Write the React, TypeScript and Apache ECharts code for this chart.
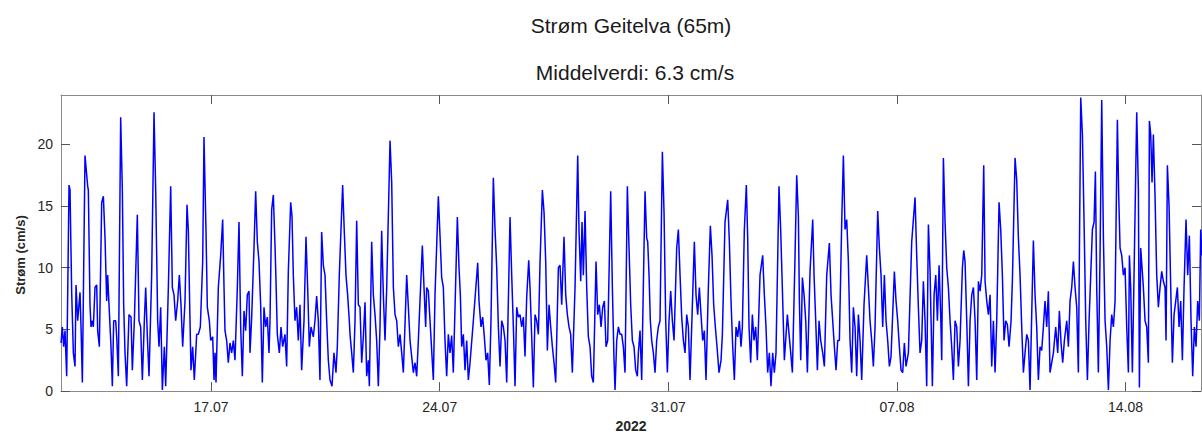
import React, { useEffect, useRef } from "react";
import * as echarts from "echarts";

// Time axis: days since 2022-07-12 00:00
const xStart = 0.407;
const xEnd = 35.31;
const tickDays = [5, 12, 19, 26, 33];
const tickLabels = ["17.07", "24.07", "31.07", "07.08", "14.08"];
const yTicks = [0, 5, 10, 15, 20];

const titleText = "Strøm Geitelva (65m)";
const subtitleText = "Middelverdi: 6.3 cm/s";
const yLabel = "Strøm (cm/s)";
const xLabel = "2022";

const days = [
  0.408, 0.448, 0.489, 0.530, 0.581, 0.653, 0.683, 0.734, 0.785, 0.836, 0.867, 0.918, 0.989, 1.020, 1.061,
  1.142, 1.224, 1.244, 1.295, 1.326, 1.367, 1.397, 1.448, 1.500, 1.530, 1.581, 1.653, 1.704, 1.755, 1.806,
  1.836, 1.877, 1.938, 1.979, 2.020, 2.081, 2.112, 2.163, 2.234, 2.285, 2.326, 2.367, 2.418, 2.489, 2.551,
  2.591, 2.653, 2.744, 2.795, 2.846, 2.898, 2.959, 3.000, 3.051, 3.102, 3.183, 3.255, 3.306, 3.367, 3.408,
  3.459, 3.510, 3.571, 3.612, 3.694, 3.765, 3.816, 3.867, 3.918, 3.979, 4.030, 4.081, 4.132, 4.204, 4.265,
  4.306, 4.347, 4.387, 4.438, 4.489, 4.561, 4.612, 4.673, 4.745,
  4.785, 4.847, 4.887, 4.949, 4.990, 5.051, 5.092, 5.122, 5.153, 5.224, 5.296, 5.357, 5.398, 5.428, 5.479,
  5.530, 5.581, 5.632, 5.683, 5.734, 5.806, 5.857, 5.908, 5.959, 6.010, 6.061, 6.112, 6.163, 6.194, 6.245,
  6.316, 6.367, 6.418, 6.469, 6.520, 6.571, 6.622, 6.673, 6.724, 6.775, 6.806, 6.857, 6.908, 6.959, 6.990,
  7.030, 7.092, 7.143, 7.194, 7.265, 7.316, 7.367, 7.439, 7.479, 7.520, 7.571, 7.622, 7.673, 7.724, 7.775,
  7.847, 7.908, 7.959, 8.010, 8.061, 8.132, 8.183, 8.234, 8.285, 8.336, 8.387, 8.439, 8.490, 8.541, 8.592,
  8.643, 8.704, 8.765, 8.826, 8.867, 8.928, 9.030, 9.081, 9.132, 9.183, 9.234,
  9.256, 9.307, 9.358, 9.409, 9.460, 9.511, 9.562, 9.613, 9.664, 9.715, 9.766, 9.817, 9.848, 9.919, 9.970,
  10.021, 10.072, 10.123, 10.174, 10.225, 10.276, 10.327, 10.379, 10.481, 10.532, 10.583, 10.634, 10.685, 10.736, 10.787,
  10.838, 10.889, 10.991, 11.042, 11.093, 11.144, 11.195, 11.246, 11.297, 11.348, 11.470, 11.521, 11.572, 11.603, 11.654,
  11.705, 11.756, 11.807, 11.858, 11.960, 12.011, 12.062, 12.113, 12.164, 12.215, 12.266, 12.317, 12.368, 12.419, 12.542,
  12.593, 12.634, 12.675, 12.726, 12.777, 12.828, 12.879, 12.930, 13.032, 13.165, 13.205, 13.266, 13.317, 13.368, 13.419,
  13.470, 13.521, 13.572, 13.644,
  13.696, 13.747, 13.798, 13.849, 13.900, 13.951, 14.002, 14.053, 14.155, 14.206, 14.257, 14.308, 14.359, 14.410, 14.461,
  14.512, 14.563, 14.614, 14.665, 14.727, 14.767, 14.818, 14.869, 14.920, 14.971, 15.023, 15.074, 15.145, 15.196, 15.247,
  15.298, 15.349, 15.400, 15.451, 15.502, 15.553, 15.635, 15.686, 15.737, 15.808, 15.860, 15.910, 15.961, 16.012, 16.063,
  16.145, 16.227, 16.268, 16.319, 16.359, 16.400, 16.451, 16.502, 16.553, 16.604, 16.655, 16.706, 16.788, 16.839, 16.890,
  16.941, 16.992, 17.043, 17.094, 17.145, 17.237, 17.288, 17.339, 17.370, 17.421, 17.472, 17.523, 17.574, 17.624, 17.676,
  17.747, 17.798, 17.849, 17.900, 17.951, 18.002, 18.053,
  18.084, 18.135, 18.186, 18.288, 18.339, 18.370, 18.411, 18.451, 18.492, 18.543, 18.594, 18.645, 18.696, 18.747, 18.819,
  18.870, 18.921, 18.972, 19.023, 19.074, 19.125, 19.176, 19.258, 19.309, 19.360, 19.411, 19.462, 19.513, 19.564, 19.615,
  19.666, 19.798, 19.849, 19.900, 19.951, 20.002, 20.053, 20.104, 20.155, 20.227, 20.288, 20.339, 20.390, 20.441, 20.492,
  20.553, 20.615, 20.656, 20.737, 20.819, 20.870, 20.921, 20.972, 21.023, 21.074, 21.125, 21.176, 21.227, 21.268, 21.329,
  21.390, 21.431, 21.472, 21.523, 21.574, 21.625, 21.676, 21.727, 21.809, 21.890, 21.941, 21.992, 22.043, 22.094, 22.145,
  22.196, 22.247, 22.298, 22.390, 22.441, 22.492, 22.554,
  22.606, 22.646, 22.698, 22.749, 22.800, 22.881, 22.932, 22.983, 23.014, 23.055, 23.106, 23.157, 23.208, 23.259, 23.340,
  23.422, 23.463, 23.514, 23.565, 23.616, 23.667, 23.728, 23.779, 23.851, 23.932, 23.983, 24.034, 24.085, 24.136, 24.187,
  24.238, 24.310, 24.361, 24.412, 24.463, 24.514, 24.565, 24.616, 24.667, 24.718, 24.769, 24.820, 24.871, 24.922, 24.993,
  25.075, 25.126, 25.177, 25.228, 25.279, 25.330, 25.412, 25.463, 25.514, 25.565, 25.616, 25.667, 25.718, 25.769, 25.820,
  25.922, 25.973, 26.024, 26.075, 26.126, 26.177, 26.228, 26.279, 26.351, 26.453, 26.555, 26.606, 26.657, 26.708, 26.759,
  26.810, 26.861, 26.912,
  26.964, 27.015, 27.046, 27.086, 27.138, 27.189, 27.240, 27.291, 27.342, 27.372, 27.423, 27.474, 27.525, 27.576, 27.627,
  27.678, 27.729, 27.780, 27.831, 27.882, 27.933, 28.005, 28.046, 28.086, 28.138, 28.189, 28.240, 28.291, 28.342, 28.393,
  28.444, 28.495, 28.546, 28.597, 28.658, 28.699, 28.750, 28.801, 28.852, 28.903, 28.954, 29.005, 29.056, 29.127, 29.178,
  29.229, 29.280, 29.331, 29.382, 29.433, 29.495, 29.535, 29.617, 29.668, 29.719, 29.770, 29.821, 29.872, 29.923, 29.974,
  30.025, 30.076, 30.127, 30.178, 30.229, 30.280, 30.331, 30.382, 30.433, 30.484, 30.535, 30.586, 30.637, 30.688, 30.791,
  30.862, 30.923, 30.974, 31.025, 31.076, 31.127,
  31.199, 31.250, 31.301, 31.352, 31.403, 31.454, 31.505, 31.556, 31.628, 31.679, 31.730, 31.781, 31.832, 31.883, 31.934,
  31.985, 32.036, 32.077, 32.117, 32.168, 32.219, 32.271, 32.322, 32.373, 32.424, 32.475, 32.526, 32.577, 32.628, 32.679,
  32.750, 32.791, 32.832, 32.883, 32.934, 32.985, 33.036, 33.087, 33.118, 33.158, 33.209, 33.260, 33.342, 33.393, 33.424,
  33.464, 33.546, 33.597, 33.648, 33.699, 33.730, 33.771, 33.811, 33.852, 33.903, 33.954, 34.005, 34.056, 34.107, 34.158,
  34.209, 34.240, 34.281, 34.332, 34.383, 34.434, 34.485, 34.536, 34.587, 34.638, 34.689, 34.740, 34.791, 34.852, 34.903,
  34.954, 35.005, 35.056, 35.107, 35.158, 35.209, 35.260, 35.301, 35.342,
];

const speeds = [
  3.9, 5.2, 3.6, 4.9, 1.2, 16.7, 16.3, 8.0, 3.1, 2.0, 8.6, 5.7, 8.0, 5.2, 0.7,
  19.1, 16.6, 16.3, 7.0, 5.2, 5.7, 5.2, 8.4, 8.6, 4.9, 3.6, 15.3, 15.8, 12.4, 7.3,
  9.4, 7.0, 3.6, 0.4, 5.7, 5.7, 4.4, 1.2, 22.2, 16.3, 7.0, 3.1, 0.4, 6.2, 6.0,
  1.7, 5.7, 14.3, 5.7, 5.2, 0.9, 5.7, 8.4, 4.4, 1.2, 9.4, 22.6, 16.3, 5.7, 3.6,
  6.8, 0.1, 3.6, 0.4, 8.4, 16.6, 8.4, 7.8, 5.7, 7.3, 9.4, 7.0, 3.6, 7.3, 15.1,
  13.0, 7.0, 1.7, 3.6, 0.9, 4.6, 4.6, 5.2, 10.5,
  20.6, 12.9, 6.8, 5.7, 4.1, 4.4, 0.9, 3.1, 0.7, 8.4, 11.0, 13.9, 8.4, 4.9, 4.1,
  2.3, 3.9, 3.1, 4.1, 2.5, 8.4, 13.7, 5.2, 1.2, 6.5, 4.9, 7.8, 8.1, 3.1, 6.0,
  11.6, 16.2, 12.1, 10.5, 7.0, 0.7, 6.8, 5.2, 6.0, 3.1, 5.7, 14.7, 15.9, 11.8, 8.9,
  4.6, 3.1, 5.2, 3.6, 4.6, 2.0, 9.7, 15.3, 14.2, 9.4, 5.7, 6.8, 4.1, 7.0, 1.7,
  5.7, 12.5, 8.4, 3.6, 5.2, 4.4, 5.7, 7.7, 5.7, 0.9, 12.9, 10.2, 9.4, 5.7, 2.5,
  0.9, 0.4, 3.1, 1.5, 3.6, 9.4, 16.7, 12.9, 9.4, 7.8, 5.7,
  4.6, 3.1, 1.5, 5.7, 13.8, 7.0, 6.8, 2.3, 4.4, 7.2, 1.2, 2.5, 0.4, 12.1, 7.8,
  6.2, 4.1, 0.4, 5.2, 13.0, 7.8, 4.1, 8.4, 20.3, 16.9, 8.4, 6.2, 5.7, 3.6, 4.6,
  3.1, 1.5, 9.4, 6.8, 4.1, 2.8, 1.5, 2.3, 1.2, 4.1, 11.8, 8.4, 5.2, 8.4, 8.1,
  5.7, 3.3, 0.9, 7.8, 15.8, 12.6, 9.2, 8.4, 4.1, 1.2, 4.6, 3.1, 4.5, 1.5, 14.1,
  10.0, 7.8, 3.6, 4.6, 1.7, 4.1, 0.9, 2.3, 5.7, 10.4, 7.3, 5.2, 6.0, 4.4, 2.5,
  3.1, 0.5, 5.7, 17.3,
  13.1, 10.0, 5.2, 2.0, 5.7, 5.2, 4.1, 0.7, 14.1, 9.4, 5.2, 0.4, 6.8, 6.0, 6.2,
  5.2, 6.0, 2.8, 7.6, 10.6, 8.4, 4.4, 0.3, 6.2, 5.7, 4.6, 10.5, 16.3, 14.5, 10.5,
  3.3, 7.0, 5.2, 3.6, 2.3, 0.7, 10.0, 10.2, 7.0, 12.5, 7.8, 6.2, 5.2, 4.6, 1.5,
  8.4, 19.1, 12.9, 8.9, 13.7, 9.4, 14.6, 8.4, 4.4, 3.6, 1.2, 0.7, 10.5, 6.2, 7.0,
  5.2, 6.8, 7.3, 3.6, 4.1, 16.2, 8.4, 2.5, 0.1, 4.1, 5.2, 4.6, 4.6, 3.6, 1.5,
  16.6, 11.6, 7.0, 4.1, 3.6, 1.7, 1.2,
  3.1, 4.9, 0.9, 16.2, 12.4, 12.1, 9.4, 5.7, 4.1, 3.1, 1.5, 4.1, 5.2, 5.7, 19.4,
  14.5, 5.7, 1.5, 5.7, 8.1, 5.7, 4.1, 11.6, 13.1, 9.4, 6.0, 4.1, 3.1, 6.2, 5.2,
  0.9, 12.1, 7.8, 6.2, 8.4, 6.2, 4.1, 4.9, 0.9, 8.4, 13.4, 11.0, 7.0, 5.2, 3.6,
  1.5, 2.5, 4.6, 13.7, 15.5, 12.1, 7.3, 3.6, 0.9, 5.2, 4.4, 5.7, 3.6, 5.2, 13.1,
  16.7, 12.4, 5.2, 2.3, 6.2, 4.1, 5.2, 2.5, 9.4, 11.0, 7.8, 5.2, 1.5, 3.1, 0.4,
  3.1, 1.5, 3.1, 16.6, 13.1, 8.4, 2.5,
  4.6, 6.2, 4.6, 3.1, 1.5, 11.0, 17.5, 14.2, 7.3, 2.5, 9.2, 7.8, 5.7, 1.5, 9.7,
  13.9, 9.4, 5.7, 1.7, 5.7, 4.1, 3.1, 2.0, 9.4, 12.0, 7.8, 5.7, 3.6, 1.7, 4.1,
  4.1, 13.7, 19.1, 13.1, 13.9, 10.5, 4.1, 1.5, 6.8, 5.2, 1.2, 6.2, 4.1, 0.9, 7.0,
  11.0, 8.4, 5.7, 4.1, 2.0, 5.2, 14.6, 11.6, 9.4, 5.2, 9.4, 5.7, 4.1, 2.0, 2.8,
  9.7, 7.3, 5.7, 3.6, 1.7, 1.5, 3.9, 2.0, 3.1, 12.1, 15.7, 11.0, 6.8, 3.1, 4.1,
  8.9, 5.7, 0.4,
  13.5, 9.7, 5.7, 0.4, 7.8, 9.4, 5.7, 10.2, 6.0, 2.5, 18.9, 13.7, 10.0, 8.4, 5.7,
  3.6, 0.9, 5.7, 5.2, 2.0, 4.1, 10.0, 11.4, 10.5, 5.7, 0.4, 5.7, 7.8, 8.4, 5.7,
  0.9, 8.9, 8.1, 9.4, 18.3, 8.9, 7.3, 6.2, 7.8, 2.0, 5.7, 1.5, 5.7, 15.3, 13.1,
  9.4, 4.1, 5.7, 5.4, 3.6, 5.7, 8.9, 18.9, 17.1, 12.4, 9.4, 5.2, 1.5, 3.1, 4.6,
  4.1, 0.1, 6.2, 12.2, 7.8, 5.2, 0.9, 3.6, 3.3, 5.2, 7.3, 5.2, 8.1, 1.5, 3.1,
  5.2, 3.1, 6.5, 3.9, 2.3, 4.1,
  5.7, 3.6, 7.3, 8.4, 10.5, 8.4, 6.8, 1.5, 23.8, 20.8, 13.7, 5.7, 0.9, 5.7, 9.4,
  13.1, 13.7, 17.8, 8.4, 1.5, 11.0, 23.6, 12.4, 5.7, 3.6, 0.1, 4.1, 6.2, 5.2, 7.3,
  22.0, 15.8, 11.6, 11.0, 9.4, 10.0, 5.2, 1.5, 11.0, 8.4, 1.5, 9.4, 22.6, 16.3, 0.3,
  11.6, 8.4, 5.7, 5.2, 2.3, 21.9, 20.8, 16.9, 20.8, 15.8, 9.4, 6.8, 8.4, 9.7, 8.9,
  8.4, 4.1, 18.3, 15.0, 8.4, 2.3, 6.2, 7.3, 8.4, 5.2, 7.3, 2.5, 8.4, 13.9, 9.4,
  12.6, 5.7, 1.2, 5.2, 3.6, 7.3, 5.7, 13.1, 11.0,
];

const FONT = "'Liberation Sans', Arial, Helvetica, sans-serif";

export default function App() {
  const ref = useRef<HTMLDivElement>(null);

  useEffect(() => {
    document.body.style.margin = "0";
    if (!ref.current) return;
    const chart = echarts.init(ref.current, undefined, { renderer: "svg" });
    const data = days.map((d, i) => [d, speeds[i]]);
    const lineCol = "#8a8a8a";
    const tickCol = "#555";
    const labelFmt = (v: number) => {
      const idx = tickDays.findIndex((t) => Math.abs(t - v) < 1e-6);
      return idx >= 0 ? tickLabels[idx] : "";
    };
    chart.setOption({
      animation: false,
      backgroundColor: "#ffffff",
      grid: { left: 61, right: 1, top: 95, bottom: 43, containLabel: false },
      graphic: [
        {
          type: "text",
          x: 631,
          y: 25,
          style: { text: titleText, font: `21px ${FONT}`, fill: "#1a1a1a", textAlign: "center", textVerticalAlign: "middle" },
        },
        {
          type: "text",
          x: 635,
          y: 72,
          style: { text: subtitleText, font: `21px ${FONT}`, fill: "#1a1a1a", textAlign: "center", textVerticalAlign: "middle" },
        },
        {
          type: "text",
          x: 20,
          y: 255,
          rotation: Math.PI / 2,
          style: { text: yLabel, font: `bold 13px ${FONT}`, fill: "#262626", textAlign: "center", textVerticalAlign: "middle" },
        },
      ],
      xAxis: [
        {
          type: "value",
          position: "bottom",
          min: xStart,
          max: xEnd,
          axisLine: { show: true, onZero: false, lineStyle: { color: lineCol, width: 1 } },
          axisTick: { show: true, inside: true, length: 9, customValues: tickDays, lineStyle: { color: tickCol } },
          axisLabel: {
            show: true,
            customValues: tickDays,
            formatter: labelFmt,
            color: "#262626",
            fontSize: 14,
            fontFamily: FONT,
            margin: 9,
          },
          splitLine: { show: false },
          name: xLabel,
          nameLocation: "middle",
          nameGap: 27,
          nameTextStyle: { fontWeight: "bold", fontSize: 14, color: "#262626", fontFamily: FONT },
        },
        {
          type: "value",
          position: "top",
          min: xStart,
          max: xEnd,
          axisLine: { show: true, onZero: false, lineStyle: { color: lineCol, width: 1 } },
          axisTick: { show: true, inside: true, length: 9, customValues: tickDays, lineStyle: { color: tickCol } },
          axisLabel: { show: false },
          splitLine: { show: false },
        },
      ],
      yAxis: [
        {
          type: "value",
          position: "left",
          min: 0,
          max: 24,
          axisLine: { show: true, onZero: false, lineStyle: { color: lineCol, width: 1 } },
          axisTick: { show: true, inside: true, length: 9, customValues: yTicks, lineStyle: { color: tickCol } },
          axisLabel: { show: true, customValues: yTicks, color: "#262626", fontSize: 14, fontFamily: FONT, margin: 8 },
          splitLine: { show: false },
        },
        {
          type: "value",
          position: "right",
          min: 0,
          max: 24,
          axisLine: { show: true, onZero: false, lineStyle: { color: lineCol, width: 1 } },
          axisTick: { show: true, inside: true, length: 9, customValues: yTicks, lineStyle: { color: tickCol } },
          axisLabel: { show: false },
          splitLine: { show: false },
        },
      ],
      series: [
        {
          type: "line",
          xAxisIndex: 0,
          yAxisIndex: 0,
          data,
          showSymbol: false,
          symbol: "none",
          lineStyle: { color: "#0000ff", width: 1.5 },
          clip: true,
        },
      ],
    });
    return () => chart.dispose();
  }, []);

  return <div ref={ref} style={{ width: 1202, height: 438 }} />;
}
